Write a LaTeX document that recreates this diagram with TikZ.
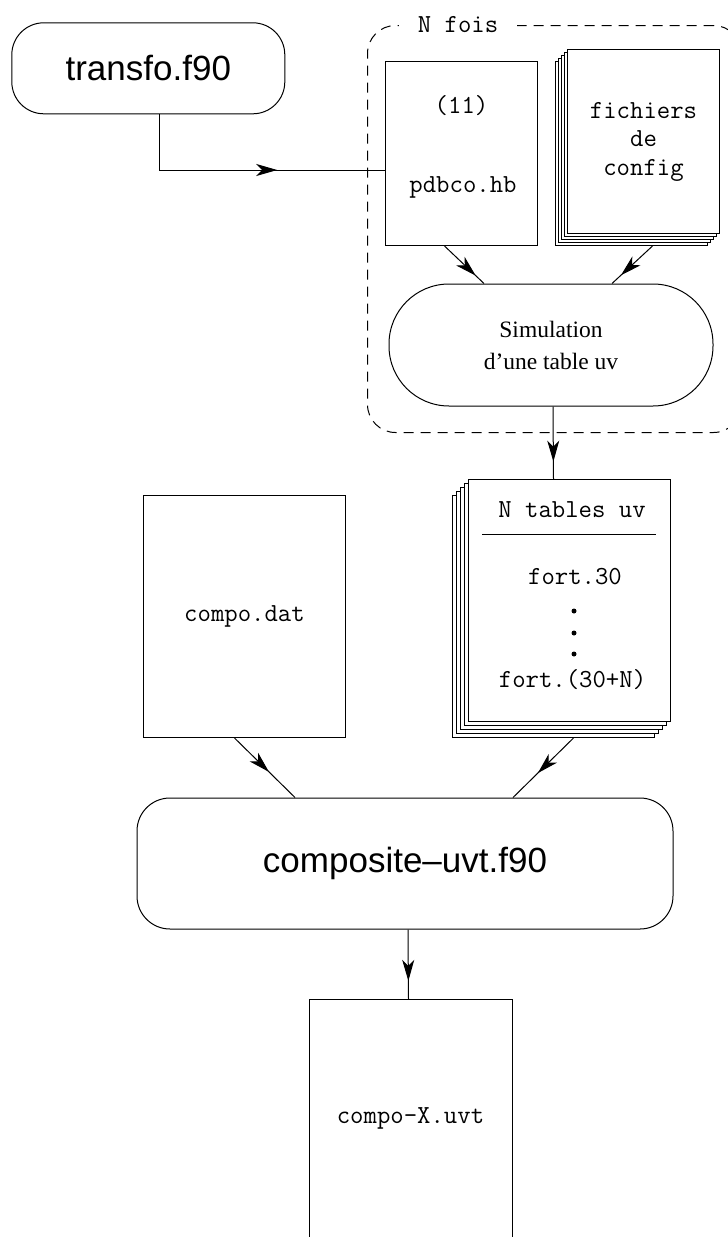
\documentclass[tikz,border=0pt]{standalone}
\usepackage{fontspec}
\setmainfont{Liberation Serif}
\newfontfamily\hel{Liberation Sans}
\newcommand\courf{\ttfamily\fontsize{26}{28.5}\selectfont}
\usetikzlibrary{arrows.meta,calc,decorations.markings}
\tikzset{
  xarr/.tip={Stealth[length=21pt,width=12pt,inset=6pt]},
  arrowat/.style={postaction={decorate},
    decoration={markings, mark=at position #1 with {\arrow{xarr}}}},
  prog/.style={draw, inner sep=0pt, font=\hel\fontsize{35}{40}\selectfont},
  filebox/.style={draw, fill=white, rectangle, inner sep=0pt, anchor=north west,
    font=\courf, align=center},
  sheet/.style={draw, fill=white, rectangle, inner sep=0pt, anchor=north west},
  ctext/.style={font=\courf, inner sep=0pt},
  dot/.style={circle, fill, inner sep=0pt, minimum size=5pt},
}
\begin{document}
\begin{tikzpicture}[x=1pt,y=-1pt,line width=1pt]
\useasboundingbox (0,0) rectangle (728,1237);
\clip (0,0) rectangle (728,1237);

% loop frame
\node[draw, dash pattern=on 10pt off 7pt, rounded corners=28pt, minimum width=374pt,
  minimum height=407pt, anchor=north west, inner sep=0pt] (loop) at (367,25) {};
\node[fill=white, ctext, inner xsep=19pt, inner ysep=3pt] (nfois) at (458,25) {N fois};

% programs
\node[prog, rounded corners=32pt, minimum width=273pt, minimum height=91pt] (transfo) at (148.3,68.3) {transfo.f90};
\node[draw, rounded corners=60pt, minimum width=324pt, minimum height=122pt, inner sep=0pt,
  align=center, font=\fontsize{23.5}{32}\selectfont] (sim) at (551,345) {Simulation\\d’une table uv};
\node[prog, rounded corners=33pt, minimum width=536pt, minimum height=131pt] (comp) at (405,863.5) {composite–uvt.f90};

% pdbco.hb
\node[filebox, minimum width=152pt, minimum height=184pt] (pdbco) at (385,61) {};
\node[ctext] (p11) at (461.5,106) {(11)};
\node[ctext] (pname) at (463,187) {pdbco.hb};

% fichiers de config (stack)
\node[sheet, minimum width=152pt, minimum height=184pt] (fich4) at (555,61) {};
\node[sheet, minimum width=152pt, minimum height=184pt] (fich3) at (558,58) {};
\node[sheet, minimum width=152pt, minimum height=184pt] (fich2) at (561,55) {};
\node[sheet, minimum width=152pt, minimum height=184pt] (fich1) at (564,52) {};
\node[filebox, minimum width=152pt, minimum height=184pt] (fich) at (567,49) {fichiers\\de\\config};

% N tables uv (stack)
\node[sheet, minimum width=202pt, minimum height=242pt] (ntab4) at (452,495) {};
\node[sheet, minimum width=202pt, minimum height=242pt] (ntab3) at (456,491) {};
\node[sheet, minimum width=202pt, minimum height=242pt] (ntab2) at (460,487) {};
\node[sheet, minimum width=202pt, minimum height=242pt] (ntab1) at (464,483) {};
\node[sheet, minimum width=202pt, minimum height=242pt] (ntab) at (468,479) {};
\node[ctext] (ntitle) at (572,510) {N tables uv};
\draw (482,534) -- (656,534);
\node[ctext] (f30) at (575,577) {fort.30};
\node[dot] (d1) at (574,611) {};
\node[dot] (d2) at (574,633) {};
\node[dot] (d3) at (574,654) {};
\node[ctext] (f30n) at (572.5,680) {fort.(30+N)};

% compo.dat
\node[filebox, minimum width=202pt, minimum height=242pt] (compo) at (143,495) {compo.dat};

% compo-X.uvt (cut off at the bottom)
\node[inner sep=0pt, anchor=north west, minimum width=202pt, minimum height=238pt,
  font=\courf] (compoX) at (309,999) {compo-X.uvt};
\draw ($(compoX.south west)+(0,20)$) -- (compoX.north west) -- (compoX.north east) -- ($(compoX.south east)+(0,20)$);

% connectors
\draw[arrowat=0.617] ($(transfo.south)+(11,0)$) |- ($(pdbco.north west)+(0,109)$);
\draw[arrowat=0.79] ($(pdbco.south)+(-17,0)$) -- ($(sim.north)+(-67,0)$);
\draw[arrowat=0.78] ($(fich4.south)+(21,0)$) -- ($(sim.north)+(61,0)$);
\draw[arrowat=0.76] ($(sim.south)+(2,0)$) -- ($(ntab.north)+(-16,0)$);
\draw[arrowat=0.57] ($(compo.south)+(-10,0)$) -- ($(comp.north)+(-110,0)$);
\draw[arrowat=0.59] ($(ntab4.south)+(20,0)$) -- ($(comp.north)+(108,0)$);
\draw[arrowat=0.74] ($(comp.south)+(3,0)$) -- ($(compoX.north)+(-2,0)$);
\end{tikzpicture}
\end{document}
